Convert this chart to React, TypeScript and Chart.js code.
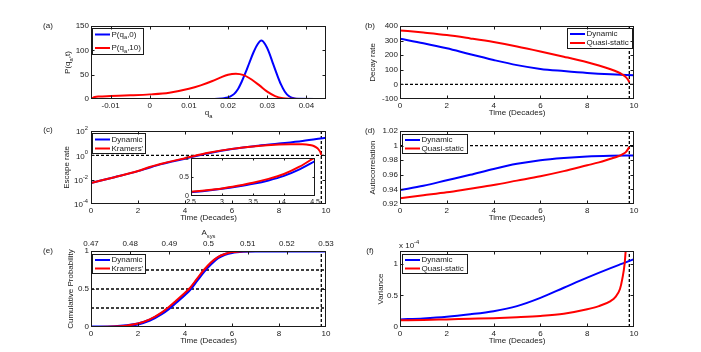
import React, { useEffect, useRef } from "react";
import { Chart, registerables } from "chart.js";
Chart.register(...registerables);

// ---------------- data ----------------
const aBlueQ = [-0.015, 0.0165, 0.0185, 0.0195, 0.0205, 0.0215, 0.0225, 0.0235, 0.0245, 0.0255, 0.0265, 0.0275, 0.0285, 0.0295, 0.0305, 0.0315, 0.0325, 0.0335, 0.0345, 0.0355, 0.0365, 0.0375, 0.045];
const aBlueP = [0, 0, 1, 2.5, 5, 10, 20, 36, 55, 76, 96, 112, 120, 112, 95, 72, 50, 30, 15, 6, 2, 0.3, 0];
const aRedQ = [-0.015, -0.0145, -0.014, -0.013, -0.01, -0.005, 0, 0.005, 0.01, 0.013, 0.016, 0.018, 0.02, 0.022, 0.024, 0.026, 0.028, 0.03, 0.032, 0.034, 0.036, 0.038, 0.045];
const aRedP = [0, 2.5, 4, 5, 6, 7.5, 9.5, 13, 21, 28, 37, 44, 50, 52, 49, 40, 28, 15, 6, 1.5, 0.3, 0, 0];
const aXTicks = [-0.01, 0, 0.01, 0.02, 0.03, 0.04];
const aYTicks = [0, 50, 100, 150];

const timeTicks = [0, 2, 4, 6, 8, 10];
const critTime = 9.8;

const bTime = [0, 1, 2, 3, 4, 5, 6, 7, 8, 9, 10];
const bDynamic = [313, 282, 247, 206, 167, 132, 106, 91, 78, 69, 63];
const bQuasiTime = [0, 1, 2, 3, 4, 5, 6, 7, 8, 8.5, 9, 9.3, 9.5, 9.65, 9.75, 9.8];
const bQuasi = [370, 355, 338, 315, 290, 260, 226, 190, 152, 130, 104, 85, 68, 50, 30, 15];
const bYTicks = [-100, 0, 100, 200, 300, 400];

const cTime = [0, 1, 2, 2.5, 3, 3.5, 4, 5, 6, 7, 8, 9, 10];
const cDynamic = [0.0054, 0.016, 0.05, 0.1, 0.19, 0.32, 0.53, 1.5, 3.3, 5.8, 9.2, 15, 28];
const cKramTime = [0, 1, 2, 2.5, 3, 3.5, 4, 5, 6, 7, 8, 8.5, 9, 9.3, 9.5, 9.65, 9.75, 9.8];
const cKram = [0.0054, 0.016, 0.051, 0.11, 0.2, 0.35, 0.58, 1.6, 3.4, 5.6, 7.6, 8.1, 8, 7.1, 5.6, 3.6, 2, 1.1];
const cYTicks = [1e-4, 1e-2, 1, 1e2];

const insetTime = [2.5, 2.75, 3, 3.25, 3.5, 3.75, 4, 4.25, 4.5];
const insetDynamic = [0.1, 0.14, 0.19, 0.25, 0.32, 0.41, 0.53, 0.7, 0.92];
const insetKram = [0.11, 0.15, 0.2, 0.27, 0.35, 0.45, 0.58, 0.77, 1.02];
const insetXTicks = [2.5, 3, 3.5, 4, 4.5];
const insetYTicks = [0, 0.5, 1];

const dTime = [0, 1, 2, 3, 4, 5, 6, 7, 8, 9, 10];
const dDynamic = [0.939, 0.945, 0.9525, 0.96, 0.968, 0.975, 0.98, 0.983, 0.985, 0.986, 0.9865];
const dQuasiTime = [0, 1, 2, 3, 4, 5, 6, 7, 8, 8.5, 9, 9.3, 9.5, 9.65, 9.8];
const dQuasi = [0.928, 0.932, 0.936, 0.941, 0.946, 0.952, 0.958, 0.965, 0.973, 0.977, 0.982, 0.985, 0.988, 0.991, 0.998];
const dYTicks = [0.92, 0.94, 0.96, 0.98, 1, 1.02];

const eTime = [0, 1, 1.5, 2, 2.5, 3, 3.3, 3.6, 4, 4.2, 4.5, 4.8, 5.1, 5.4, 5.7, 6, 6.5, 7, 10];
const eDynamic = [0, 0.004, 0.016, 0.04, 0.09, 0.175, 0.24, 0.32, 0.43, 0.49, 0.61, 0.73, 0.83, 0.91, 0.955, 0.98, 0.996, 1, 1];
const eKram = [0, 0.005, 0.018, 0.045, 0.1, 0.19, 0.26, 0.34, 0.45, 0.51, 0.63, 0.75, 0.85, 0.92, 0.96, 0.985, 0.998, 1, 1];
const eYTicks = [0, 0.5, 1];
const eLevels = [0.25, 0.5, 0.75];
const eTopTicks = [0.47, 0.48, 0.49, 0.5, 0.51, 0.52, 0.53];

const fTime = [0, 1, 2, 3, 4, 5, 6, 7, 8, 9, 9.5, 10];
const fDynamic = [0.12, 0.135, 0.16, 0.2, 0.25, 0.33, 0.46, 0.62, 0.78, 0.93, 1.0, 1.07];
const fQuasiTime = [0, 1, 2, 3, 4, 5, 6, 7, 8, 8.5, 9, 9.2, 9.4, 9.5, 9.6, 9.7];
const fQuasi = [0.105, 0.11, 0.12, 0.13, 0.14, 0.155, 0.175, 0.21, 0.28, 0.33, 0.41, 0.47, 0.6, 0.76, 1.0, 1.5];
const fYTicks = [0, 0.5, 1];

// ---------------- styling helpers ----------------
const FONT = '"Liberation Sans", Arial, Helvetica, sans-serif';
const INK = "#1a1a1a";
const BLUE = "#0000ff";
const RED = "#ff0000";
const FS = 8;

type Part = { t: string; sub?: boolean; sup?: boolean };
const plain = (s: string): Part[] => [{ t: s }];

function partsWidth(ctx: CanvasRenderingContext2D, parts: Part[], size: number) {
  let w = 0;
  for (const p of parts) {
    ctx.font = `${p.sub || p.sup ? size * 0.72 : size}px ${FONT}`;
    w += ctx.measureText(p.t).width;
  }
  return w;
}
function drawParts(ctx: CanvasRenderingContext2D, parts: Part[], x: number, y: number, size: number, align: string) {
  const w = partsWidth(ctx, parts, size);
  let cx = align === "center" ? x - w / 2 : align === "right" ? x - w : x;
  ctx.textBaseline = "middle";
  ctx.textAlign = "left";
  ctx.fillStyle = INK;
  for (const p of parts) {
    const s = p.sub || p.sup ? size * 0.72 : size;
    ctx.font = `${s}px ${FONT}`;
    const dy = p.sub ? size * 0.38 : p.sup ? -size * 0.45 : 0;
    ctx.fillText(p.t, cx, y + dy);
    cx += ctx.measureText(p.t).width;
  }
}

type TextItem = { parts: Part[]; x: number; y: number; align?: string; rot?: boolean; size?: number };
type LegendRow = { parts: Part[]; color: string; y: number };
type Decor = {
  left: number;
  top: number;
  texts: TextItem[];
  legend?: { x: number; y: number; w: number; h: number; rows: LegendRow[] };
  logY?: boolean;
  tickLen?: number;
  white?: boolean;
};

function decorPlugin(d: Decor) {
  return {
    id: "decor",
    beforeDraw(chart: any) {
      if (!d.white) return;
      const a = chart.chartArea;
      const ctx = chart.ctx;
      ctx.save();
      ctx.fillStyle = "#ffffff";
      ctx.fillRect(a.left, a.top, a.right - a.left, a.bottom - a.top);
      ctx.restore();
    },
    afterDatasetsDraw(chart: any) {
      const ctx: CanvasRenderingContext2D = chart.ctx;
      const a = chart.chartArea;
      ctx.save();
      if (d.legend) {
        const L = d.legend;
        const lx = L.x - d.left;
        const ly = L.y - d.top;
        ctx.fillStyle = "#ffffff";
        ctx.fillRect(lx, ly, L.w, L.h);
        ctx.strokeStyle = INK;
        ctx.lineWidth = 1;
        ctx.strokeRect(lx + 0.5, ly + 0.5, L.w - 1, L.h - 1);
        for (const r of L.rows) {
          const ry = r.y - d.top;
          ctx.strokeStyle = r.color;
          ctx.lineWidth = 2;
          ctx.beginPath();
          ctx.moveTo(lx + 3, ry);
          ctx.lineTo(lx + 18, ry);
          ctx.stroke();
          drawParts(ctx, r.parts, lx + 19.5, ry, FS, "left");
        }
      }
      // box
      ctx.strokeStyle = INK;
      ctx.lineWidth = 1;
      const L0 = Math.round(a.left) + 0.5;
      const T0 = Math.round(a.top) + 0.5;
      const R0 = Math.round(a.right) - 0.5;
      const B0 = Math.round(a.bottom) - 0.5;
      ctx.strokeRect(L0, T0, R0 - L0, B0 - T0);
      const tl = d.tickLen ?? 3;
      const inX = (p: number) => p > L0 + 0.6 && p < R0 - 0.6;
      const inY = (p: number) => p > T0 + 0.6 && p < B0 - 0.6;
      ctx.beginPath();
      const xs = chart.scales.x;
      const x2 = chart.scales.x2;
      for (const t of xs.ticks) {
        const px = Math.round(xs.getPixelForValue(t.value)) + 0.5;
        if (!inX(px)) continue;
        ctx.moveTo(px, B0);
        ctx.lineTo(px, B0 - tl);
        if (!x2) {
          ctx.moveTo(px, T0);
          ctx.lineTo(px, T0 + tl);
        }
      }
      if (x2) {
        for (const t of x2.ticks) {
          const px = Math.round(x2.getPixelForValue(t.value)) + 0.5;
          if (!inX(px)) continue;
          ctx.moveTo(px, T0);
          ctx.lineTo(px, T0 + tl);
        }
      }
      const ys = chart.scales.y;
      for (const t of ys.ticks) {
        const py = Math.round(ys.getPixelForValue(t.value)) + 0.5;
        if (!inY(py)) continue;
        ctx.moveTo(L0, py);
        ctx.lineTo(L0 + tl, py);
        ctx.moveTo(R0, py);
        ctx.lineTo(R0 - tl, py);
      }
      ctx.stroke();
      if (d.logY) {
        for (const t of ys.ticks) {
          const py = ys.getPixelForValue(t.value);
          const e = Math.round(Math.log10(t.value));
          drawParts(ctx, [{ t: "10" }, { t: String(e), sup: true }], a.left - 3, py + 1, FS, "right");
        }
      }
      ctx.restore();
    },
    afterDraw(chart: any) {
      const ctx: CanvasRenderingContext2D = chart.ctx;
      ctx.save();
      for (const it of d.texts) {
        const x = it.x - d.left;
        const y = it.y - d.top;
        if (it.rot) {
          ctx.save();
          ctx.translate(x, y);
          ctx.rotate(-Math.PI / 2);
          drawParts(ctx, it.parts, 0, 0, it.size ?? FS, "center");
          ctx.restore();
        } else {
          drawParts(ctx, it.parts, x, y, it.size ?? FS, it.align ?? "center");
        }
      }
      ctx.restore();
    },
  };
}

const fmt = (v: any) => String(Math.round(Number(v) * 1e6) / 1e6);

function axis(type: string, pos: string, min: number, max: number, ticks: number[], size: number, fontSize: number, showLabels = true) {
  const horizontal = pos === "top" || pos === "bottom";
  return {
    type,
    position: pos,
    min,
    max,
    afterBuildTicks: (s: any) => {
      s.ticks = ticks.map((v) => ({ value: v }));
    },
    afterFit: (s: any) => {
      if (horizontal) s.height = size;
      else s.width = size;
      s.paddingLeft = 0;
      s.paddingRight = 0;
      s.paddingTop = 0;
      s.paddingBottom = 0;
    },
    grid: { display: false, drawTicks: false },
    border: { display: false },
    ticks: {
      display: showLabels,
      autoSkip: false,
      maxRotation: 0,
      minRotation: 0,
      padding: 2,
      color: INK,
      font: { family: FONT, size: fontSize },
      callback: fmt,
    },
  };
}

function lineDs(xs: number[], ys: number[], color: string, width = 2, order = 1) {
  return {
    data: xs.map((x, i) => ({ x, y: ys[i] })),
    borderColor: color,
    borderWidth: width,
    pointRadius: 0,
    fill: false,
    cubicInterpolationMode: "monotone",
    clip: 0,
    order,
  };
}
function dashDs(xs: number[], ys: number[]) {
  return {
    data: xs.map((x, i) => ({ x, y: ys[i] })),
    borderColor: "#000000",
    borderWidth: 1.3,
    borderDash: [3, 2],
    pointRadius: 0,
    fill: false,
    clip: 0,
    order: 3,
  };
}

type Geo = { L: number; T: number; W: number; H: number; ML: number; MR: number; MT: number; MB: number };
const canvasRect = (g: Geo) => ({ left: g.L - g.ML, top: g.T - g.MT, width: g.W + g.ML + g.MR, height: g.H + g.MT + g.MB });

const LEFT = { L: 91, W: 235, ML: 91, MR: 14 };
const RIGHT = { L: 400, W: 234, ML: 50, MR: 67 };
const geoA: Geo = { ...LEFT, T: 26, H: 73, MT: 26, MB: 22 };
const geoB: Geo = { ...RIGHT, T: 26, H: 73, MT: 26, MB: 22 };
const geoC: Geo = { ...LEFT, T: 131, H: 73, MT: 26, MB: 22 };
const geoD: Geo = { ...RIGHT, T: 131, H: 73, MT: 26, MB: 22 };
const geoE: Geo = { ...LEFT, T: 251, H: 76, MT: 26, MB: 22 };
const geoF: Geo = { ...RIGHT, T: 251, H: 76, MT: 26, MB: 22 };
const geoInset: Geo = { L: 191, T: 158, W: 124, H: 38, ML: 20, MR: 8, MT: 6, MB: 12 };

function build(canvas: HTMLCanvasElement, g: Geo, datasets: any[], scales: any, decor: Omit<Decor, "left" | "top">, topAxis = false) {
  const r = canvasRect(g);
  return new Chart(canvas, {
    type: "line",
    data: { datasets },
    options: {
      responsive: false,
      maintainAspectRatio: false,
      animation: false,
      devicePixelRatio: 1,
      events: [],
      layout: { padding: { left: 0, right: g.MR, top: topAxis ? 0 : g.MT, bottom: 0 } },
      plugins: { legend: { display: false }, tooltip: { enabled: false } },
      scales,
    } as any,
    plugins: [decorPlugin({ ...decor, left: r.left, top: r.top })],
  } as any);
}

const Pq = (s: string): Part[] => [{ t: "P(q" }, { t: "a", sub: true }, { t: s }];
const TIME = plain("Time (Decades)");
const QS = "Quasi-static";

export default function App() {
  const refs = [useRef<HTMLCanvasElement>(null), useRef<HTMLCanvasElement>(null), useRef<HTMLCanvasElement>(null), useRef<HTMLCanvasElement>(null), useRef<HTMLCanvasElement>(null), useRef<HTMLCanvasElement>(null), useRef<HTMLCanvasElement>(null)];
  const geos = [geoA, geoB, geoC, geoD, geoE, geoF, geoInset];

  useEffect(() => {
    const charts: Chart[] = [];
    const [ca, cb, cc, cd, ce, cf, ci] = refs.map((r) => r.current!);

    // (a)
    charts.push(
      build(ca, geoA,
        [lineDs(aRedQ, aRedP, RED, 2, 0), lineDs(aBlueQ, aBlueP, BLUE, 2, 1)],
        { x: axis("linear", "bottom", -0.015, 0.045, aXTicks, geoA.MB, FS), y: axis("linear", "left", 0, 150, aYTicks, geoA.ML, FS) },
        {
          texts: [
            { parts: plain("(a)"), x: 48, y: 26 },
            { parts: Pq(",t)"), x: 68, y: 62.5, rot: true },
            { parts: [{ t: "q" }, { t: "a", sub: true }], x: 208.5, y: 113 },
          ],
          legend: { x: 92, y: 28, w: 52, h: 27, rows: [{ parts: Pq(",0)"), color: BLUE, y: 34.5 }, { parts: Pq(",10)"), color: RED, y: 48 }] },
        })
    );

    // (b)
    charts.push(
      build(cb, geoB,
        [lineDs(bQuasiTime, bQuasi, RED, 2, 0), lineDs(bTime, bDynamic, BLUE, 2, 1), dashDs([0, 10], [0, 0]), dashDs([critTime, critTime], [-100, 400])],
        { x: axis("linear", "bottom", 0, 10, timeTicks, geoB.MB, FS), y: axis("linear", "left", -100, 400, bYTicks, geoB.ML, FS) },
        {
          texts: [
            { parts: plain("(b)"), x: 370, y: 26 },
            { parts: plain("Decay rate"), x: 373, y: 62.5, rot: true },
            { parts: TIME, x: 517, y: 113 },
          ],
          legend: { x: 567, y: 28, w: 66, h: 21, rows: [{ parts: plain("Dynamic"), color: BLUE, y: 34 }, { parts: plain(QS), color: RED, y: 43 }] },
        })
    );

    // (c)
    charts.push(
      build(cc, geoC,
        [lineDs(cKramTime, cKram, RED, 2, 0), lineDs(cTime, cDynamic, BLUE, 2, 1), dashDs([0, 10], [1, 1]), dashDs([critTime, critTime], [1e-4, 1e2])],
        { x: axis("linear", "bottom", 0, 10, timeTicks, geoC.MB, FS), y: axis("logarithmic", "left", 1e-4, 1e2, cYTicks, geoC.ML, FS, false) },
        {
          texts: [
            { parts: plain("(c)"), x: 48, y: 130 },
            { parts: plain("Escape rate"), x: 67, y: 167.5, rot: true },
            { parts: TIME, x: 208.5, y: 218 },
          ],
          logY: true,
          legend: { x: 92, y: 133, w: 54, h: 21, rows: [{ parts: plain("Dynamic"), color: BLUE, y: 139.5 }, { parts: plain("Kramers'"), color: RED, y: 148.5 }] },
        })
    );

    // (d)
    charts.push(
      build(cd, geoD,
        [lineDs(dQuasiTime, dQuasi, RED, 2, 0), lineDs(dTime, dDynamic, BLUE, 2, 1), dashDs([0, 10], [1, 1]), dashDs([critTime, critTime], [0.92, 1.02])],
        { x: axis("linear", "bottom", 0, 10, timeTicks, geoD.MB, FS), y: axis("linear", "left", 0.92, 1.02, dYTicks, geoD.ML, FS) },
        {
          texts: [
            { parts: plain("(d)"), x: 370, y: 131 },
            { parts: plain("Autocorrelation"), x: 373, y: 167.5, rot: true },
            { parts: TIME, x: 517, y: 218 },
          ],
          legend: { x: 402, y: 134, w: 66, h: 20, rows: [{ parts: plain("Dynamic"), color: BLUE, y: 140 }, { parts: plain(QS), color: RED, y: 148.5 }] },
        })
    );

    // (e)
    charts.push(
      build(ce, geoE,
        [
          lineDs(eTime, eKram, RED, 2, 0),
          lineDs(eTime, eDynamic, BLUE, 3, 1),
          ...eLevels.map((lv) => dashDs([0, 10], [lv, lv])),
          dashDs([critTime, critTime], [0, 1]),
        ],
        {
          x: axis("linear", "bottom", 0, 10, timeTicks, geoE.MB, FS),
          x2: axis("linear", "top", 0.47, 0.53, eTopTicks, geoE.MT, FS),
          y: axis("linear", "left", 0, 1, eYTicks, geoE.ML, FS),
        },
        {
          texts: [
            { parts: plain("(e)"), x: 48, y: 251 },
            { parts: plain("Cumulative Probability"), x: 71, y: 289, rot: true },
            { parts: TIME, x: 208.5, y: 341 },
            { parts: [{ t: "A" }, { t: "sys", sub: true }], x: 208.5, y: 233 },
          ],
          legend: { x: 92, y: 254, w: 54, h: 20, rows: [{ parts: plain("Dynamic"), color: BLUE, y: 260 }, { parts: plain("Kramers'"), color: RED, y: 268.5 }] },
        },
        true)
    );

    // (f)
    charts.push(
      build(cf, geoF,
        [lineDs(fQuasiTime, fQuasi, RED, 2, 0), lineDs(fTime, fDynamic, BLUE, 2, 1), dashDs([critTime, critTime], [0, 1.2])],
        { x: axis("linear", "bottom", 0, 10, timeTicks, geoF.MB, FS), y: axis("linear", "left", 0, 1.2, fYTicks, geoF.ML, FS) },
        {
          texts: [
            { parts: plain("(f)"), x: 370, y: 251 },
            { parts: plain("Variance"), x: 381, y: 289, rot: true },
            { parts: TIME, x: 517, y: 341 },
            { parts: [{ t: "x 10" }, { t: "-4", sup: true }], x: 399, y: 246, align: "left" },
          ],
          legend: { x: 402, y: 254, w: 66, h: 20, rows: [{ parts: plain("Dynamic"), color: BLUE, y: 260 }, { parts: plain(QS), color: RED, y: 268.5 }] },
        })
    );

    // inset of (c)
    charts.push(
      build(ci, geoInset,
        [lineDs(insetTime, insetKram, RED, 2, 0), lineDs(insetTime, insetDynamic, BLUE, 2, 1)],
        { x: axis("linear", "bottom", 2.5, 4.5, insetXTicks, geoInset.MB, 7), y: axis("linear", "left", 0, 1, insetYTicks, geoInset.ML, 7) },
        { texts: [], white: true, tickLen: 2 })
    );

    return () => charts.forEach((c) => c.destroy());
  }, []);

  return (
    <div style={{ position: "absolute", left: 0, top: 0, width: 701, height: 352, background: "#fff" }}>
      {geos.map((g, i) => {
        const r = canvasRect(g);
        return (
          <canvas
            key={i}
            ref={refs[i]}
            width={r.width}
            height={r.height}
            style={{ position: "absolute", left: r.left, top: r.top, width: r.width, height: r.height }}
          />
        );
      })}
    </div>
  );
}
